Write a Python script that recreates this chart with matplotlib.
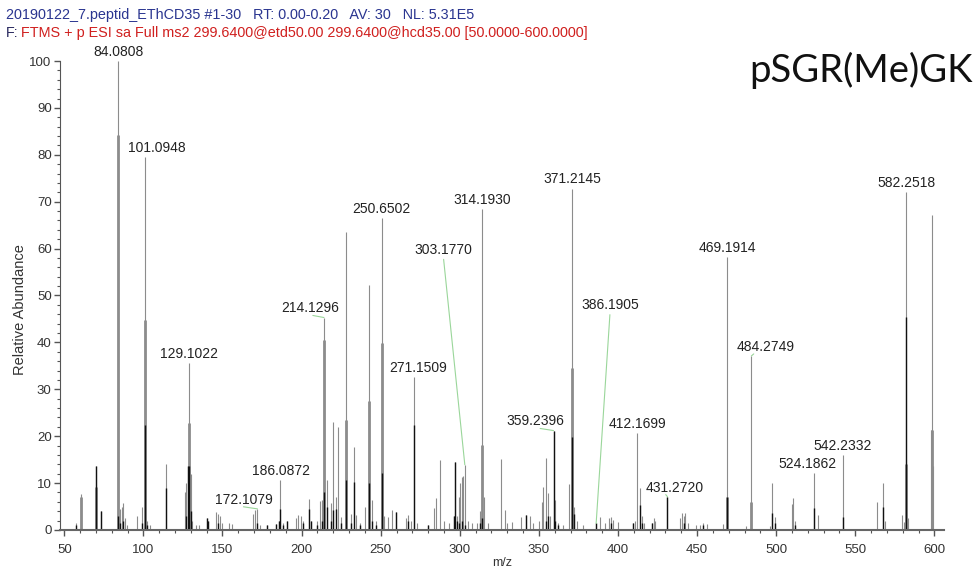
import matplotlib.pyplot as plt
from matplotlib.ticker import MultipleLocator

plt.rcParams['font.family'] = ['Liberation Sans', 'DejaVu Sans']

header_info = "20190122_7.peptid_EThCD35 #1-30   RT: 0.00-0.20   AV: 30   NL: 5.31E5"
header_filter = "FTMS + p ESI sa Full ms2 299.6400@etd50.00 299.6400@hcd35.00 [50.0000-600.0000]"
peptide = "pSGR(Me)GK"

# spectrum: m/z, thin gray top, profile (thick gray) top, black top
peak_mz = [57.5, 60.3, 70.07, 73.0, 84.0808, 85.5, 86.5, 87.4, 88.5, 89.5,
           96.2, 99.0, 101.0948, 102.5, 104.0, 114.1, 126.3, 127.2, 128.1, 129.1022,
           130.1, 131.0, 133.0, 135.0, 140.0, 141.0, 146.0, 147.0, 148.5, 150.0,
           154.0, 156.0, 169.5, 170.5, 172.1079, 174.0, 178.0, 184.0, 185.5, 186.0872,
           188.0, 190.8, 196.5, 198.0, 199.5, 201.0, 204.9, 206.0, 209.5, 211.7,
           212.8, 214.1296, 215.8, 218.5, 219.6, 221.7, 222.7, 225.0, 228.1, 231.0,
           233.2, 234.6, 237.0, 240.0, 242.7, 244.7, 247.0, 250.6502, 252.0, 254.6,
           257.0, 259.5, 266.0, 267.5, 269.0, 271.1509, 273.0, 280.0, 283.5, 284.8,
           287.5, 290.0, 293.0, 296.2, 297.0, 298.0, 299.5, 300.4, 301.2, 302.2,
           303.177, 305.0, 308.0, 311.0, 313.0, 314.193, 315.5, 318.0, 325.9, 328.3,
           330.0, 332.8, 339.0, 341.8, 344.3, 346.0, 350.0, 352.0, 352.8, 354.5,
           356.0, 357.0, 359.2396, 360.3, 362.0, 365.5, 368.9, 371.2145, 372.5, 374.0,
           377.6, 386.1905, 388.8, 392.0, 394.0, 395.5, 397.0, 400.0, 409.6, 411.0,
           412.1699, 414.0, 415.0, 416.5, 421.5, 422.5, 423.5, 431.272, 439.5, 440.5,
           441.5, 442.5, 444.0, 449.5, 452.0, 454.0, 456.0, 466.5, 469.1914, 481.0,
           484.2749, 496.0, 497.2, 499.3, 510.0, 510.8, 512.0, 524.1862, 526.5, 542.2332,
           564.0, 567.8, 568.6, 579.4, 580.5, 582.2518, 583.3, 597.8, 598.3, 598.9]
peak_top = [1.5, 7.6, 13.7, 4.0, 100.0, 4.5, 5.0, 5.8, 2.5, 1.0,
            3.0, 5.0, 79.5, 2.0, 1.0, 14.1, 8.0, 10.0, 13.7, 35.6,
            12.0, 2.0, 1.0, 1.0, 2.5, 2.0, 3.9, 3.5, 3.0, 1.5,
            1.5, 1.2, 3.5, 4.3, 4.5, 1.0, 1.0, 1.2, 2.0, 10.7,
            1.5, 2.0, 2.5, 3.2, 3.0, 2.0, 6.7, 2.0, 2.0, 6.2,
            6.4, 45.3, 10.7, 5.7, 23.1, 7.0, 22.0, 2.8, 63.6, 3.5,
            17.6, 3.2, 1.5, 4.9, 52.2, 6.4, 2.0, 66.5, 3.0, 2.8,
            4.3, 3.9, 2.5, 3.2, 2.0, 32.7, 1.5, 1.0, 4.6, 6.8,
            14.9, 2.0, 1.5, 3.0, 14.4, 3.0, 7.0, 10.0, 11.3, 11.5,
            13.9, 2.0, 1.5, 1.5, 4.0, 68.4, 7.0, 1.5, 15.1, 4.3,
            1.5, 1.8, 2.7, 3.2, 3.0, 1.5, 2.0, 6.0, 9.2, 15.3,
            7.8, 3.0, 21.2, 6.4, 1.5, 1.0, 9.8, 72.8, 5.0, 2.0,
            1.0, 1.4, 2.8, 1.5, 2.5, 2.8, 2.2, 1.8, 1.4, 2.0,
            20.6, 8.9, 3.0, 1.5, 1.5, 2.5, 2.0, 7.1, 2.5, 3.6,
            3.0, 3.6, 1.5, 1.0, 1.0, 1.5, 1.2, 1.2, 58.2, 0.8,
            37.1, 0.8, 10.0, 2.8, 5.5, 6.8, 2.0, 12.1, 3.2, 16.0,
            5.9, 10.1, 2.0, 3.2, 1.7, 72.1, 2.5, 21.3, 67.2, 13.6]
peak_mid = [0, 7.0, 9.2, 0, 84.2, 0, 0, 0, 0, 0,
            0, 0, 44.8, 0, 0, 0, 0, 0, 0, 22.8,
            0, 0, 0, 0, 0, 0, 0, 0, 0, 0,
            0, 0, 0, 0, 0, 0, 0, 0, 0, 0,
            0, 0, 0, 0, 0, 0, 0, 0, 0, 0,
            0, 40.5, 0, 0, 0, 0, 0, 0, 23.5, 0,
            0, 0, 0, 0, 27.4, 0, 0, 39.9, 0, 0,
            0, 0, 0, 0, 0, 0, 0, 0, 0, 0,
            0, 0, 0, 0, 0, 0, 0, 0, 0, 0,
            0, 0, 0, 0, 0, 18.1, 0, 0, 0, 0,
            0, 0, 0, 0, 0, 0, 0, 0, 0, 0,
            0, 0, 0, 0, 0, 0, 0, 34.5, 0, 0,
            0, 0, 0, 0, 0, 0, 0, 0, 0, 0,
            0, 0, 0, 0, 0, 0, 0, 0, 0, 0,
            0, 0, 0, 0, 0, 0, 0, 0, 7.1, 0,
            6.0, 0, 0, 0, 0, 0, 0, 0, 0, 0,
            0, 0, 0, 0, 0, 14.1, 0, 0, 21.3, 0]
peak_black = [1.0, 0, 13.7, 4.0, 3.0, 1.5, 0, 2.0, 0, 0,
              0, 1.5, 22.4, 1.0, 0, 9.0, 0, 3.0, 13.7, 13.7,
              4.0, 0, 0, 0, 2.5, 2.0, 0, 1.5, 0, 0,
              0, 0, 0, 0, 1.5, 0, 1.0, 1.2, 2.0, 4.5,
              1.0, 2.0, 0, 0, 0, 1.5, 4.5, 2.0, 1.0, 0,
              2.0, 8.0, 5.0, 2.0, 4.3, 4.5, 0, 1.5, 10.7, 1.5,
              10.3, 0, 1.0, 0, 10.0, 2.0, 1.0, 12.2, 0, 0,
              0, 3.9, 0, 2.0, 0, 22.4, 0, 1.0, 0, 0,
              0, 0, 0, 3.0, 14.4, 2.0, 1.5, 0, 2.0, 0,
              1.0, 0, 0, 0, 1.5, 2.5, 0, 0, 0, 0,
              0, 0, 0, 3.2, 0, 0, 0, 0, 0, 2.0,
              3.0, 0, 21.2, 2.0, 1.0, 0, 0, 19.9, 3.5, 0,
              0, 1.4, 0, 0, 0, 1.5, 0, 0, 1.4, 0,
              0, 5.3, 1.5, 0, 1.5, 0, 0, 7.1, 0, 0,
              1.5, 0, 0, 0, 0, 1.0, 0, 0, 7.1, 0,
              0, 0, 3.6, 1.5, 0, 0, 1.0, 4.6, 0, 2.8,
              0, 5.0, 0, 0, 0, 45.5, 0, 0, 0, 0]

label_mz = [84.0808, 101.0948, 129.1022, 172.1079, 186.0872, 214.1296, 250.6502,
            271.1509, 303.1770, 314.1930, 359.2396, 371.2145, 386.1905, 412.1699,
            431.2720, 469.1914, 484.2749, 524.1862, 542.2332, 582.2518]

# label placement: pixel shift from peak top, and where a green leader starts (0..1 along text)
label_shift = {101.0948: 12, 172.1079: -14, 186.0872: 1, 214.1296: -14, 271.1509: 4,
               359.2396: -18, 431.2720: 7, 484.2749: 14, 524.1862: -7}
label_hook = {172.1079: 0.5, 214.1296: 0.55, 359.2396: 0.58, 431.2720: 0.35, 484.2749: 0.3}
label_free = {303.1770: (289.6, 58.3), 386.1905: (395.0, 46.5)}

fig = plt.figure(figsize=(9.79, 5.75), dpi=100)
ax = fig.add_axes([0.0613, 0.0783, 0.9030, 0.8156])

gray = '#8c8c8c'
green = '#9ad69a'
ax.vlines(peak_mz, 0, peak_top, color=gray, lw=0.8)
mid = [(m, h) for m, h in zip(peak_mz, peak_mid) if h > 0]
ax.vlines([m for m, h in mid], 0, [h for m, h in mid], color=gray, lw=2.0)
blk = [(m, h) for m, h in zip(peak_mz, peak_black) if h > 0]
ax.vlines([m for m, h in blk], 0, [h for m, h in blk], color='#111111', lw=1.0)

top_of = dict(zip(peak_mz, peak_top))
for mz in label_mz:
    h = top_of[min(top_of, key=lambda k: abs(k - mz))]
    txt = f"{mz:.4f}"
    if mz in label_free:
        ax.annotate(txt, xy=(mz, h), xytext=label_free[mz], textcoords='data',
                    ha='center', va='bottom', fontsize=10, color='#222222',
                    annotation_clip=False,
                    arrowprops=dict(arrowstyle='-', color=green, lw=0.8,
                                    shrinkA=0, shrinkB=0, relpos=(0.5, 0)))
        continue
    dx = label_shift.get(mz, 0) * 0.72
    kw = {}
    if mz in label_hook:
        kw['arrowprops'] = dict(arrowstyle='-', color=green, lw=0.8,
                                shrinkA=0, shrinkB=0, relpos=(label_hook[mz], 0))
    ax.annotate(txt, xy=(mz, h), xytext=(dx, 1.5), textcoords='offset points',
                ha='center', va='bottom', fontsize=10, color='#222222',
                annotation_clip=False, **kw)

ax.set_xlim(47.3, 606.1)
ax.set_ylim(0, 100)
ax.xaxis.set_major_locator(MultipleLocator(50))
ax.xaxis.set_minor_locator(MultipleLocator(10))
ax.yaxis.set_major_locator(MultipleLocator(10))
ax.yaxis.set_minor_locator(MultipleLocator(2))
ax.tick_params(which='major', direction='out', length=4, width=1, color='#555555',
               labelsize=9.5, labelcolor='#333333', pad=2)
ax.tick_params(axis='x', which='major', pad=6)
ax.tick_params(which='minor', direction='out', length=2.5, width=0.8, color='#555555')
for side in ['top', 'right']:
    ax.spines[side].set_visible(False)
ax.spines['left'].set_color('#555555')
ax.spines['bottom'].set_color('#666666')
ax.spines['bottom'].set_linewidth(1.5)
ax.set_xlabel('m/z', fontsize=9, color='#333333', labelpad=1)

fig.text(20 / 979, 1 - 310 / 575, 'Relative Abundance', rotation=90, ha='center',
         va='center', fontsize=10.5, color='#333333')
fig.text(6 / 979, 1 - 15 / 575, header_info, ha='left', va='center', fontsize=10.4,
         color='#2a3590')
fig.text(6 / 979, 1 - 33 / 575, 'F:', ha='left', va='center', fontsize=10.4, color='#2a2a60')
fig.text(21 / 979, 1 - 33 / 575, header_filter, ha='left', va='center', fontsize=10.4,
         color='#d0201f')
fig.text(973 / 979, 1 - 70 / 575, peptide, ha='right', va='center', fontsize=27.5,
         family=['Lato', 'DejaVu Sans'], color='#111111')

fig.savefig('out.png', dpi=100)
